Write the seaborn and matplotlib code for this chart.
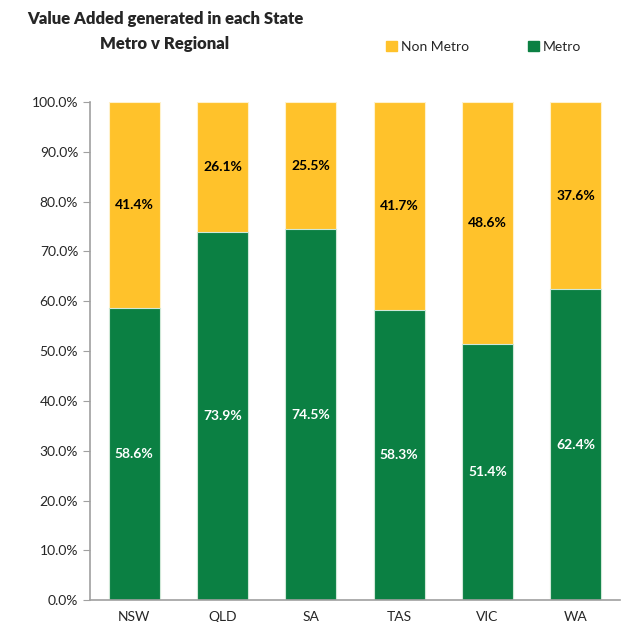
import matplotlib
matplotlib.use('Agg')
import matplotlib.pyplot as plt
import matplotlib.ticker as mtick
from matplotlib.patches import Patch
import seaborn as sns
import pandas as pd

states = ["NSW", "QLD", "SA", "TAS", "VIC", "WA"]
metro = [58.6, 73.9, 74.5, 58.3, 51.4, 62.4]
non_metro = [41.4, 26.1, 25.5, 41.7, 48.6, 37.6]

green = "#0b8043"
yellow = "#ffc22b"

sns.set_style("white")
plt.rcParams['font.family'] = ['Lato', 'DejaVu Sans']

df = pd.DataFrame({"state": states, "metro": metro, "non_metro": non_metro})
df["total"] = df["metro"] + df["non_metro"]

fig = plt.figure(figsize=(6.25, 6.22), dpi=100)
ax = fig.add_axes([0.144, 0.035, 0.848, 0.801])

sns.barplot(data=df, x="state", y="total", color=yellow, width=0.58,
            edgecolor="#fff2cc", linewidth=0.8, saturation=1, ax=ax)
sns.barplot(data=df, x="state", y="metro", color=green, width=0.58,
            edgecolor="#cfe8d8", linewidth=0.8, saturation=1, ax=ax)

for i, (m, n) in enumerate(zip(metro, non_metro)):
    ax.text(i, m / 2, f"{m:.1f}%", ha="center", va="center", color="white",
            fontsize=10, fontweight="bold")
    ax.text(i, m + n / 2, f"{n:.1f}%", ha="center", va="center", color="black",
            fontsize=10, fontweight="bold")

ax.set_ylim(0, 100)
ax.set_xlim(-0.5, 5.5)
ax.set_yticks(range(0, 101, 10))
ax.yaxis.set_major_formatter(mtick.FuncFormatter(lambda v, p: f"{v:.1f}%"))
ax.set_xlabel("")
ax.set_ylabel("")
ax.set_xticks([i + 0.5 for i in range(-1, 6)], minor=True)
ax.tick_params(axis="x", which="major", length=0, labelsize=10, pad=8)
ax.tick_params(axis="x", which="minor", length=5, color="#a0a0a0", direction="out")
ax.tick_params(axis="y", length=5, color="#a0a0a0", direction="out", labelsize=10, left=True)
for s in ["top", "right"]:
    ax.spines[s].set_visible(False)
for s in ["left", "bottom"]:
    ax.spines[s].set_color("#a0a0a0")
    ax.spines[s].set_linewidth(1.2)

fig.text(0.264, 0.97, "Value Added generated in each State", ha="center", va="center",
         fontsize=12, fontweight="heavy")
fig.text(0.264, 0.93, "Metro v Regional", ha="center", va="center",
         fontsize=12, fontweight="heavy")

handles = [Patch(color=yellow, label="Non Metro"), Patch(color=green, label="Metro")]
fig.legend(handles=handles, loc="center", bbox_to_anchor=(0.774, 0.925), ncol=2,
           frameon=False, fontsize=10, handlelength=0.8, handleheight=0.8,
           handletextpad=0.3, columnspacing=4.2)

fig.savefig("out.png", dpi=100)
